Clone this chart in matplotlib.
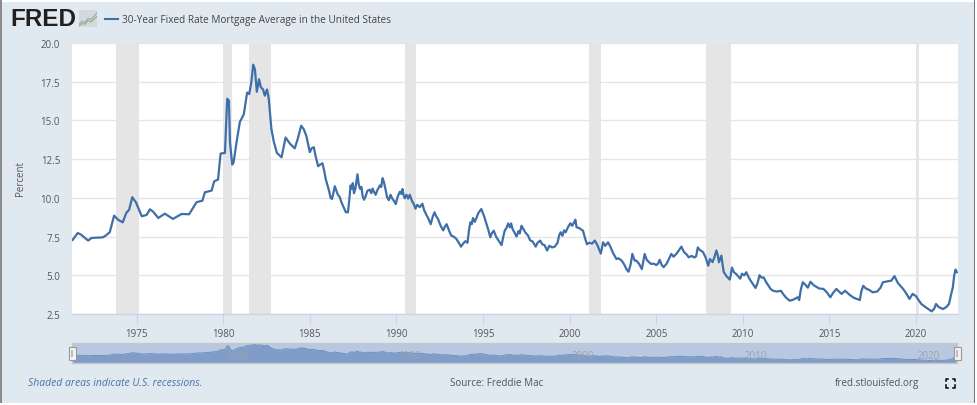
import matplotlib
matplotlib.use("Agg")
import matplotlib.pyplot as plt
from matplotlib.patches import Rectangle

plt.rcParams['font.family'] = ['Open Sans', 'DejaVu Sans']

W, H = 977, 406
TITLE = "30-Year Fixed Rate Mortgage Average in the United States"
Y_LABEL = "Percent"
x_ticks = [1975, 1980, 1985, 1990, 1995, 2000, 2005, 2010, 2015, 2020]
y_ticks = [2.5, 5.0, 7.5, 10.0, 12.5, 15.0, 17.5, 20.0]
nav_labels = [1980, 1990, 2000, 2010, 2020]
recessions = [(1973.82, 1975.13), (1979.99, 1980.48), (1981.50, 1982.77), (1990.48, 1991.13),
              (2001.12, 2001.80), (2007.85, 2009.33), (2020.00, 2020.14)]

# (year, percent) pairs, era by era
rates_1971_1985 = [
    (1971.3, 7.28), (1971.6, 7.73), (1971.8, 7.62), (1972.2, 7.24), (1972.4, 7.41), (1973.05, 7.45), (1973.2, 7.55),
    (1973.45, 7.78), (1973.7, 8.85), (1973.95, 8.57), (1974.2, 8.42), (1974.4, 9.02), (1974.57, 9.24), (1974.75, 10.04),
    (1974.96, 9.71), (1975.3, 8.81), (1975.58, 8.9), (1975.77, 9.26), (1975.96, 9.1), (1976.25, 8.7), (1976.63, 8.98),
    (1977.1, 8.64), (1977.6, 8.96), (1978.03, 8.94), (1978.46, 9.72), (1978.8, 9.82), (1978.94, 10.36), (1979.33, 10.47),
    (1979.48, 11.07), (1979.7, 11.18), (1979.85, 12.86), (1980.1, 12.9), (1980.23, 16.4), (1980.33, 16.28), (1980.39, 13.6),
    (1980.52, 12.15), (1980.6, 12.3), (1980.77, 13.6), (1980.96, 14.9), (1981.19, 15.4), (1981.38, 16.8), (1981.5, 16.7),
    (1981.63, 17.5), (1981.73, 18.6), (1981.83, 18.3), (1981.94, 16.85), (1982.07, 17.66), (1982.17, 17.15), (1982.3, 17.0),
    (1982.4, 16.6), (1982.53, 17.0), (1982.63, 16.4), (1982.78, 14.45), (1982.92, 13.63), (1983.1, 12.9), (1983.37, 12.62),
    (1983.6, 13.9), (1983.85, 13.5), (1984.13, 13.2), (1984.3, 13.8), (1984.5, 14.66), (1984.64, 14.45), (1984.8, 14.0),
]
rates_1985_1995 = [
    (1985.0, 12.95), (1985.1, 13.2), (1985.23, 13.27), (1985.33, 12.7), (1985.42, 12.3), (1985.48, 12.04), (1985.6, 12.15),
    (1985.73, 12.23), (1985.82, 11.8), (1985.92, 11.2), (1986.02, 10.8), (1986.1, 10.5), (1986.2, 10.0), (1986.28, 9.93),
    (1986.36, 10.3), (1986.44, 10.75), (1986.52, 10.5), (1986.62, 10.2), (1986.73, 10.04), (1986.83, 9.7), (1986.95, 9.4),
    (1987.08, 9.07), (1987.2, 9.07), (1987.28, 9.9), (1987.35, 10.8), (1987.42, 10.6), (1987.48, 10.95), (1987.55, 10.3),
    (1987.63, 10.6), (1987.75, 11.52), (1987.82, 10.9), (1987.9, 10.58), (1987.98, 10.7), (1988.05, 10.1), (1988.13, 9.88),
    (1988.22, 10.1), (1988.32, 10.45), (1988.46, 10.53), (1988.55, 10.3), (1988.62, 10.6), (1988.7, 10.4), (1988.8, 10.2),
    (1988.9, 10.5), (1989.04, 10.8), (1989.12, 10.7), (1989.2, 11.27), (1989.28, 11.0), (1989.36, 10.6), (1989.46, 10.04),
    (1989.56, 9.85), (1989.66, 10.2), (1989.76, 9.95), (1989.86, 9.8), (1989.96, 9.6), (1990.08, 10.1), (1990.2, 10.4),
    (1990.28, 10.25), (1990.35, 10.57), (1990.42, 10.15), (1990.48, 9.97), (1990.58, 10.2), (1990.68, 9.95), (1990.77, 10.2),
    (1990.9, 9.8), (1991.0, 9.6), (1991.1, 9.3), (1991.2, 9.55), (1991.35, 9.4), (1991.5, 9.62), (1991.6, 9.2),
    (1991.73, 8.9), (1991.85, 8.65), (1991.98, 8.3), (1992.1, 8.8), (1992.2, 9.07), (1992.3, 8.8), (1992.4, 8.64),
    (1992.55, 8.2), (1992.7, 7.9), (1992.8, 8.15), (1992.9, 8.3), (1993.05, 7.85), (1993.17, 7.56), (1993.3, 7.5),
    (1993.46, 7.35), (1993.6, 7.1), (1993.73, 6.85), (1993.85, 7.05), (1993.98, 7.2), (1994.1, 7.1), (1994.2, 8.0),
    (1994.27, 8.42), (1994.35, 8.3), (1994.42, 8.7), (1994.52, 8.45), (1994.62, 8.7), (1994.72, 9.0), (1994.9, 9.28),
]
rates_1995_2009 = [
    (1995.05, 8.85), (1995.2, 8.3), (1995.3, 7.95), (1995.42, 7.45), (1995.5, 7.7), (1995.62, 7.88), (1995.75, 7.5),
    (1995.92, 7.2), (1996.07, 6.95), (1996.17, 7.5), (1996.25, 7.88), (1996.35, 8.05), (1996.45, 8.35), (1996.55, 8.1),
    (1996.62, 8.35), (1996.7, 8.0), (1996.82, 7.75), (1996.93, 7.5), (1997.05, 7.85), (1997.12, 7.7), (1997.22, 8.2),
    (1997.32, 8.0), (1997.45, 7.75), (1997.6, 7.56), (1997.72, 7.25), (1997.85, 7.2), (1998.04, 6.85), (1998.15, 7.1),
    (1998.3, 7.24), (1998.42, 7.0), (1998.55, 6.95), (1998.7, 6.6), (1998.82, 6.9), (1999.0, 6.8), (1999.14, 6.85),
    (1999.3, 7.1), (1999.4, 7.6), (1999.48, 7.78), (1999.58, 7.55), (1999.68, 7.9), (1999.77, 7.78), (1999.9, 8.1),
    (2000.04, 8.36), (2000.15, 8.2), (2000.25, 8.4), (2000.33, 8.59), (2000.4, 8.1), (2000.55, 8.05), (2000.77, 7.88),
    (2000.9, 7.35), (2001.0, 7.0), (2001.12, 7.1), (2001.3, 7.05), (2001.45, 7.24), (2001.6, 6.95), (2001.8, 6.4),
    (2001.93, 7.13), (2002.05, 6.9), (2002.22, 7.13), (2002.35, 6.85), (2002.5, 6.45), (2002.7, 6.05), (2002.82, 6.1),
    (2003.0, 5.95), (2003.15, 5.7), (2003.3, 5.35), (2003.4, 5.23), (2003.52, 5.7), (2003.62, 6.38), (2003.75, 5.95),
    (2003.85, 5.95), (2004.0, 5.75), (2004.17, 5.4), (2004.25, 5.9), (2004.33, 6.38), (2004.45, 6.0), (2004.58, 5.85),
    (2004.7, 5.73), (2004.85, 5.75), (2005.0, 5.66), (2005.1, 5.75), (2005.2, 6.0), (2005.3, 5.7), (2005.42, 5.52),
    (2005.6, 5.75), (2005.75, 6.1), (2005.87, 6.38), (2006.0, 6.2), (2006.16, 6.38), (2006.3, 6.6), (2006.45, 6.85),
    (2006.6, 6.5), (2006.75, 6.35), (2006.87, 6.16), (2007.05, 6.25), (2007.2, 6.15), (2007.3, 6.22), (2007.4, 6.8),
    (2007.5, 6.65), (2007.7, 6.5), (2007.85, 6.15), (2008.0, 5.62), (2008.1, 6.05), (2008.25, 5.85), (2008.37, 6.2),
    (2008.47, 6.6), (2008.55, 6.3), (2008.62, 5.84), (2008.76, 6.27), (2008.84, 5.6), (2008.9, 5.2),
]
rates_2009_2022 = [
    (2009.05, 4.95), (2009.24, 4.72), (2009.3, 5.0), (2009.37, 5.5), (2009.48, 5.2), (2009.6, 5.1), (2009.72, 4.95),
    (2009.85, 4.78), (2009.95, 5.1), (2010.08, 5.0), (2010.2, 5.2), (2010.32, 4.9), (2010.45, 4.65), (2010.6, 4.4),
    (2010.73, 4.18), (2010.85, 4.5), (2010.96, 5.0), (2011.08, 4.85), (2011.2, 4.86), (2011.35, 4.55), (2011.6, 4.12),
    (2011.75, 4.0), (2011.95, 3.95), (2012.2, 4.0), (2012.35, 3.75), (2012.5, 3.55), (2012.7, 3.36), (2012.9, 3.42),
    (2013.17, 3.58), (2013.25, 3.4), (2013.35, 4.1), (2013.46, 4.55), (2013.6, 4.4), (2013.75, 4.2), (2013.9, 4.58),
    (2014.1, 4.35), (2014.4, 4.15), (2014.65, 4.12), (2014.85, 3.9), (2015.05, 3.58), (2015.2, 3.85), (2015.4, 4.12),
    (2015.55, 3.95), (2015.7, 3.8), (2015.9, 4.0), (2016.15, 3.75), (2016.4, 3.55), (2016.75, 3.4), (2016.85, 4.0),
    (2016.95, 4.32), (2017.1, 4.15), (2017.3, 4.05), (2017.5, 3.9), (2017.75, 3.95), (2017.95, 4.2), (2018.08, 4.55),
    (2018.3, 4.6), (2018.57, 4.65), (2018.75, 4.95), (2018.95, 4.5), (2019.25, 4.12), (2019.45, 3.8), (2019.62, 3.47),
    (2019.8, 3.8), (2020.0, 3.65), (2020.1, 3.47), (2020.3, 3.15), (2020.6, 2.9), (2020.9, 2.67), (2021.05, 2.85),
    (2021.15, 3.15), (2021.3, 2.95), (2021.55, 2.82), (2021.75, 2.95), (2021.9, 3.15), (2022.03, 3.8), (2022.12, 4.2),
    (2022.2, 5.0), (2022.28, 5.37), (2022.35, 5.2),
]
points = rates_1971_1985 + rates_1985_1995 + rates_1995_2009 + rates_2009_2022
years = [p[0] for p in points]
rates = [p[1] for p in points]

BG = '#e1e9f0'
LINE = '#3f6fa8'
TXT = '#555555'

fig = plt.figure(figsize=(W / 100, H / 100), dpi=100, facecolor=BG)


def px_axes(x0, y0, x1, y1, **kw):
    return fig.add_axes([x0 / W, 1 - y1 / H, (x1 - x0) / W, (y1 - y0) / H], **kw)


def ftext(x, y, s, **kw):
    return fig.text(x / W, 1 - y / H, s, **kw)


def frect(x, y, w, h, **kw):
    fig.add_artist(Rectangle((x / W, 1 - (y + h) / H), w / W, h / H, transform=fig.transFigure, **kw))


# page edges around the screenshot
frect(0, 0, W, 3, fc='white', ec='none')
frect(0, 0, 2.3, H, fc='#8a8a8a', ec='none')
frect(974, 0, 1, H, fc='#777777', ec='none')
frect(975, 0, 2, H, fc='white', ec='none')
frect(0, 404, W, 2, fc='white', ec='none')

# main plot
XMIN, XMAX = 1971.27, 2022.42
ax = px_axes(72, 44, 958, 315)
ax.set_xlim(XMIN, XMAX)
ax.set_ylim(2.5, 20)
ax.set_facecolor('white')
for a, b in recessions:
    ax.axvspan(a, b, fc='#e5e5e5', ec='none', zorder=1)
ax.set_yticks(y_ticks)
ax.set_xticks(x_ticks)
ax.set_yticklabels([f"{v:.1f}" for v in y_ticks])
ax.yaxis.grid(True, color='#e6e6e6', lw=1)
ax.set_axisbelow(True)
ax.tick_params(axis='y', length=0, pad=8.6, labelsize=7, labelcolor=TXT)
ax.tick_params(axis='x', length=7, width=0.8, color='#c8d4e8', pad=3, labelsize=7, labelcolor=TXT)
for s in ('top', 'left', 'right'):
    ax.spines[s].set_visible(False)
ax.spines['bottom'].set_color('#c8d4e8')
ax.spines['bottom'].set_linewidth(1)
ax.plot(years, rates, color=LINE, lw=1.6, zorder=3, solid_joinstyle='round', clip_on=True)
ftext(21, 179, Y_LABEL, rotation=90, ha='center', va='center', fontsize=7, color=TXT)

# range navigator
nav = px_axes(72, 343.5, 957, 364.3)
nav.set_xlim(XMIN, XMAX)
nav.set_ylim(0.1, 19.7)
nav.set_facecolor('#b9c8e1')
nav.fill_between(years, rates, 0, color='#7f9dc8', lw=0)
nav.plot(years, rates, color='#6f90c0', lw=0.7)
nav.set_xticks([])
nav.set_yticks([])
for s in nav.spines.values():
    s.set_color('#c4c8cc')
    s.set_linewidth(1)
for yr in nav_labels:
    nav.annotate(str(yr), (yr, 0), xycoords=('data', 'axes fraction'), xytext=(9.5, 1.5), textcoords='offset points',
                 ha='center', va='bottom', fontsize=7, color='#9aa3ad')
for hx in (72, 957):
    frect(hx - 3.5, 347.7, 7, 13.3, fc='#f2f2f2', ec='#999999', lw=0.8, zorder=5)
    frect(hx - 1, 350.5, 2, 7, fc='#bdbdbd', ec='none', zorder=6)

# header
ftext(10.5, 20, "FRED", fontsize=17.5, fontweight='bold', color='#231f20', va='center', ha='left',
      family=['Liberation Sans', 'DejaVu Sans'])
icon = px_axes(79, 11, 97, 28)
icon.set_xlim(0, 6)
icon.set_ylim(0, 6)
icon.plot([0, 1, 2, 3, 4, 5, 6], [1, 2, 1.6, 3, 2.6, 3.8, 5], color='#8fa9c9', lw=0.8)
icon.plot([0, 1, 2, 3, 4, 5, 6], [0.4, 1.2, 1, 2.2, 1.8, 2.8, 3.8], color='#94b06a', lw=0.8)
icon.axis('off')
icon.add_patch(Rectangle((0, 0), 6, 6, fc='#d3d8dc', ec='none', zorder=0))
fig.add_artist(plt.Line2D([105 / W, 118 / W], [1 - 19.5 / H] * 2, color=LINE, lw=1.5))
ftext(122, 20, TITLE, fontsize=7.2, color='#444444', va='center', ha='left')

# footer
ftext(28, 384, "Shaded areas indicate U.S. recessions.", fontsize=7.5, style='italic', color='#4a72a8',
      va='center', ha='left')
ftext(450.5, 384, "Source: Freddie Mac", fontsize=7.1, color=TXT, va='center', ha='left')
ftext(835, 384, "fred.stlouisfed.org", fontsize=7.15, color=TXT, va='center', ha='left')
# fullscreen corner brackets
cx0, cx1, cy0, cy1 = 945.5, 955, 379.5, 388.5
for xs, ys in [((cx0, cx0, cx0 + 2.5), (cy0 + 2.5, cy0, cy0)), ((cx1 - 2.5, cx1, cx1), (cy0, cy0, cy0 + 2.5)),
               ((cx0, cx0, cx0 + 2.5), (cy1 - 2.5, cy1, cy1)), ((cx1 - 2.5, cx1, cx1), (cy1, cy1, cy1 - 2.5))]:
    fig.add_artist(plt.Line2D([v / W for v in xs], [1 - v / H for v in ys], color='black', lw=1.1))

fig.savefig('out.png', dpi=100, facecolor=BG)
